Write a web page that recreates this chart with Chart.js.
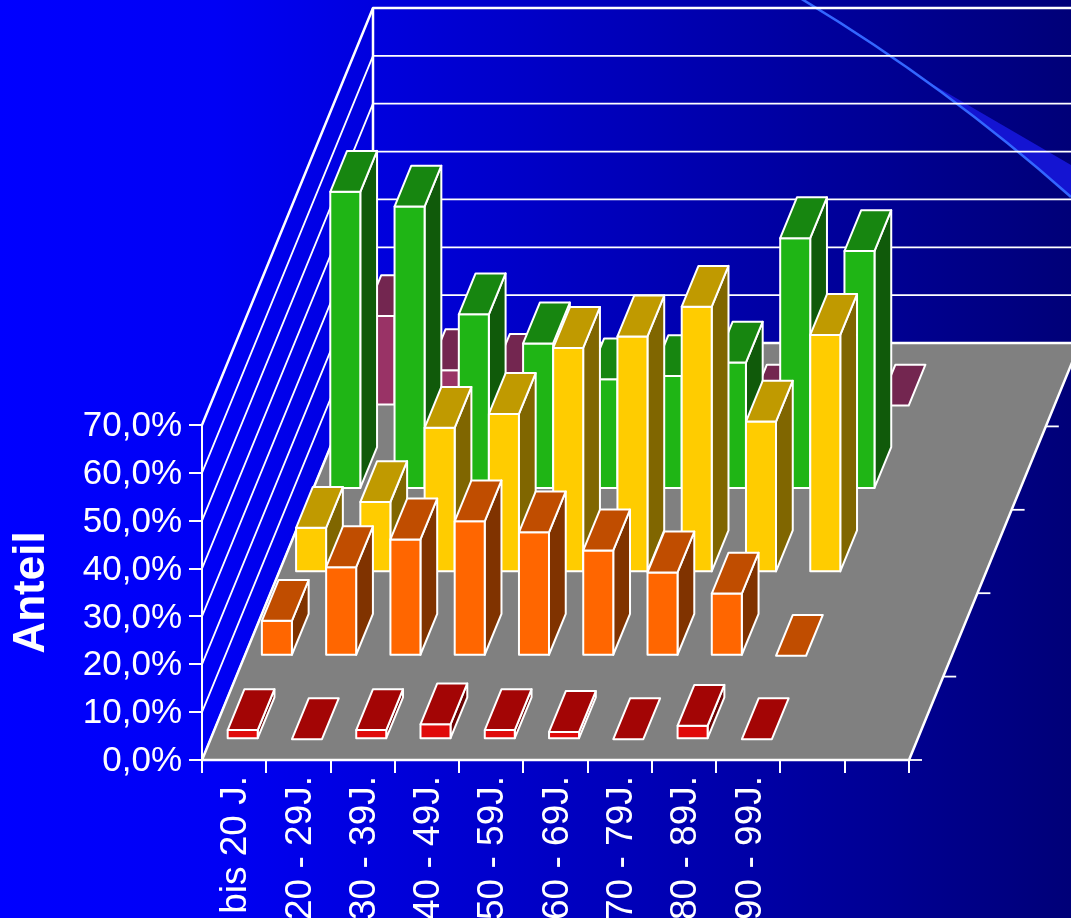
<!DOCTYPE html>
<html>
<head>
<meta charset="utf-8">
<title>Anteil</title>
<script src="https://cdn.jsdelivr.net/npm/chart.js@4/dist/chart.umd.min.js"></script>
<style>
  html, body { margin: 0; padding: 0; background: #0000ff; overflow: hidden; }
  canvas { display: block; }
</style>
</head>
<body>
<canvas id="chart" width="1071" height="918"></canvas>
<script>
const altersgruppen = ['bis 20 J.', '20 - 29J.', '30 - 39J.', '40 - 49J.', '50 - 59J.', '60 - 69J.', '70 - 79J.', '80 - 89J.', '90 - 99J.', '', ''];
const reiheRot = [1.9, 0, 1.9, 3.1, 1.9, 1.5, 0, 2.8, 0];
const reiheOrange = [7.3, 18.5, 24.3, 28.1, 25.8, 22.0, 17.4, 13.0, 0];
const reiheGelb = [9.3, 14.7, 30.2, 33.1, 46.9, 49.3, 55.5, 31.5, 49.6];
const reiheGruen = [62.1, 59.0, 36.5, 30.4, 22.9, 23.6, 26.4, 52.4, 49.7];
const reiheLila = [18.7, 7.4, 6.4, 0, 0, 0, 0, 0, 0];

// front, top, side colour per row, front row first
const rowColors = [
    ['#e00a0a', '#a30505', '#6b0303'],
    ['#ff6600', '#c04d00', '#803300'],
    ['#ffcc00', '#c09a00', '#806600'],
    ['#1fb515', '#178610', '#105a0a'],
    ['#993366', '#732650', '#4d1a33']
];
const rowData = [reiheRot, reiheOrange, reiheGelb, reiheGruen, reiheLila];

// one row on the floor moves this far on screen
const ROW_DX = 34.2, ROW_DY = -83.4, ROWS = 5;
const BAR_START = 0.25, BAR_DEPTH = 0.49;
const WHITE = '#ffffff';

function poly(ctx, pts, fill) {
    ctx.beginPath();
    pts.forEach((p, i) => i ? ctx.lineTo(p[0], p[1]) : ctx.moveTo(p[0], p[1]));
    ctx.closePath();
    if (fill) { ctx.fillStyle = fill; ctx.fill(); }
    ctx.stroke();
}

class Bar3dElement extends Chart.BarElement {
    static id = 'bar3d';
    static defaults = Chart.BarElement.defaults;
    static defaultRoutes = Chart.BarElement.defaultRoutes;
    draw(ctx) {
        const { x, y, base, width } = this.getProps(['x', 'y', 'base', 'width']);
        const row = this.row;
        const [front, top, side] = rowColors[row];
        const sx = (row + BAR_START) * ROW_DX, sy = (row + BAR_START) * ROW_DY;
        const dx = BAR_DEPTH * ROW_DX, dy = BAR_DEPTH * ROW_DY;
        const l = x - width / 2 + sx, r = x + width / 2 + sx, t = y + sy, b = base + sy;
        ctx.save();
        ctx.strokeStyle = WHITE;
        ctx.lineWidth = 2;
        ctx.lineJoin = 'round';
        if (b - t > 0.5) {
            poly(ctx, [[r, t], [r + dx, t + dy], [r + dx, b + dy], [r, b]], side);
            poly(ctx, [[l, t], [r, t], [r, b], [l, b]], front);
        }
        poly(ctx, [[l, t], [l + dx, t + dy], [r + dx, t + dy], [r, t]], top);
        ctx.restore();
    }
}

class Bar3dController extends Chart.BarController {
    static id = 'bar3d';
    static defaults = { ...Chart.BarController.defaults, dataElementType: 'bar3d' };
    static overrides = Chart.BarController.overrides;
    updateElements(rects, start, count, mode) {
        super.updateElements(rects, start, count, mode);
        rects.forEach(r => { r.row = this.index; });
    }
}
Chart.register(Bar3dElement, Bar3dController);

const backdrop = {
    id: 'backdrop',
    beforeDraw(chart) {
        const { ctx, width, height } = chart;
        const g = ctx.createLinearGradient(0, 0, width, 0);
        g.addColorStop(0, '#0000ff');
        g.addColorStop(0.2, '#0000f5');
        g.addColorStop(1, '#000078');
        ctx.save();
        ctx.fillStyle = g;
        ctx.fillRect(0, 0, width, height);
        // slide decoration behind the plot
        ctx.beginPath();
        ctx.moveTo(925, 80);
        ctx.lineTo(1071, 165);
        ctx.lineTo(1071, 197);
        ctx.quadraticCurveTo(1000, 135, 925, 80);
        ctx.fillStyle = '#1414d2';
        ctx.fill();
        ctx.beginPath();
        ctx.moveTo(800, -2);
        ctx.quadraticCurveTo(945, 85, 1071, 197);
        ctx.strokeStyle = '#3366ff';
        ctx.lineWidth = 2.5;
        ctx.stroke();
        ctx.restore();
    }
};

const walls = {
    id: 'walls',
    beforeDatasetsDraw(chart) {
        const { ctx, chartArea } = chart;
        const yScale = chart.scales.y;
        const { left, right, bottom } = chartArea;
        const dx = ROWS * ROW_DX, dy = ROWS * ROW_DY;
        ctx.save();
        ctx.strokeStyle = WHITE;
        ctx.lineJoin = 'round';
        yScale.ticks.forEach(t => {
            const py = yScale.getPixelForValue(t.value);
            ctx.lineWidth = t.value === yScale.max ? 2.5 : 1.8;
            ctx.beginPath();
            ctx.moveTo(left, py);
            ctx.lineTo(left + dx, py + dy);
            ctx.lineTo(right + dx, py + dy);
            ctx.stroke();
        });
        ctx.lineWidth = 2.5;
        ctx.beginPath();
        ctx.moveTo(left + dx, bottom + dy);
        ctx.lineTo(left + dx, yScale.getPixelForValue(yScale.max) + dy);
        ctx.stroke();
        poly(ctx, [[left, bottom], [right, bottom], [right + dx, bottom + dy], [left + dx, bottom + dy]], '#808080');
        // depth ticks along the right floor edge
        ctx.lineWidth = 1.8;
        for (let i = 0; i < ROWS; i++) {
            const tx = right + i * ROW_DX, ty = bottom + i * ROW_DY;
            ctx.beginPath();
            ctx.moveTo(tx, ty);
            ctx.lineTo(tx + 13, ty);
            ctx.stroke();
        }
        ctx.restore();
    }
};

const fontFamily = '"Liberation Sans", Arial, sans-serif';

new Chart(document.getElementById('chart'), {
    type: 'bar3d',
    data: {
        labels: altersgruppen,
        datasets: rowData.map(values => ({
            data: values,
            clip: false,
            grouped: false,
            barPercentage: 0.467,
            categoryPercentage: 1
        }))
    },
    options: {
        responsive: false,
        animation: false,
        layout: { padding: { top: 425, right: 162, left: 0, bottom: 0 } },
        plugins: { legend: { display: false }, tooltip: { enabled: false }, title: { display: false } },
        scales: {
            x: {
                offset: true,
                grid: { offset: true, drawOnChartArea: false, color: WHITE, lineWidth: 2, tickLength: 13 },
                border: { color: WHITE, width: 2 },
                ticks: {
                    color: WHITE,
                    font: { family: fontFamily, size: 37 },
                    autoSkip: false,
                    minRotation: 90,
                    maxRotation: 90,
                    padding: 3,
                    labelOffset: 2
                },
                afterFit(scale) {
                    scale.height = 158;
                    scale.paddingLeft = scale.paddingRight = 0;
                }
            },
            y: {
                min: 0,
                max: 70,
                grid: { drawOnChartArea: false, color: WHITE, lineWidth: 2, tickLength: 13 },
                border: { color: WHITE, width: 2 },
                ticks: {
                    stepSize: 10,
                    color: WHITE,
                    padding: 7,
                    labelOffset: 1.5,
                    font: { family: fontFamily, size: 35 },
                    callback: v => v.toFixed(1).replace('.', ',') + '%'
                },
                title: {
                    display: true,
                    text: 'Anteil',
                    color: WHITE,
                    font: { family: fontFamily, size: 44, weight: 'bold' },
                    padding: { top: 5, bottom: 0 }
                },
                afterFit(scale) {
                    scale.width = 202;
                    scale.paddingTop = scale.paddingBottom = 0;
                }
            }
        }
    },
    plugins: [backdrop, walls]
});
</script>
</body>
</html>
